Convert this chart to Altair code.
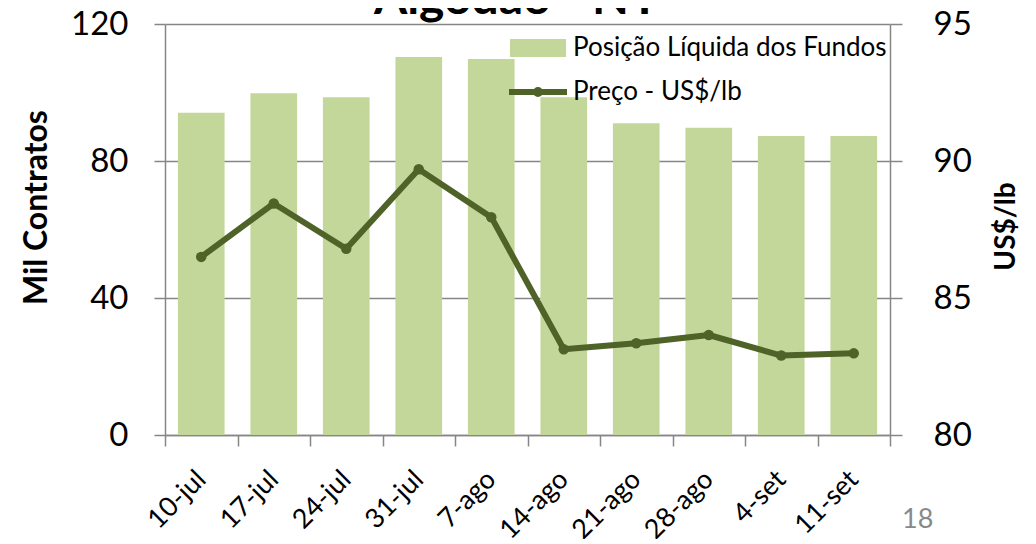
import altair as alt
import pandas as pd

semanas = ["10-jul", "17-jul", "24-jul", "31-jul", "7-ago", "14-ago", "21-ago", "28-ago", "4-set", "11-set"]
posicao_fundos = [94.1, 99.8, 98.6, 110.4, 109.8, 98.6, 91.0, 89.7, 87.3, 87.3]
preco = [86.5, 88.45, 86.8, 89.7, 87.95, 83.13, 83.35, 83.65, 82.9, 82.98]
nome_barras = "Posição Líquida dos Fundos"
nome_linha = "Preço -  US$/lb"
titulo = ["Algodão - NY"]
pagina = ["18"]

VERDE_CLARO = "#c4d79b"
VERDE_ESCURO = "#4f6228"
CINZA = "#868686"
FONTE = "Lato"

df_barras = pd.DataFrame({"semana": semanas, "valor": posicao_fundos, "serie": nome_barras})
df_linha = pd.DataFrame({"semana": semanas, "valor": preco, "serie": nome_linha})

x_enc = alt.X(
    "semana:N",
    sort=semanas,
    scale=alt.Scale(paddingInner=0, paddingOuter=0),
    axis=alt.Axis(
        title=None,
        labelAngle=315,
        labelAlign="right",
        labelBaseline="middle",
        labelFont=FONTE,
        labelFontSize=27,
        labelColor="black",
        labelPadding=29,
        tickBand="extent",
        tickColor=CINZA,
        tickWidth=1.5,
        tickSize=11,
        domainColor=CINZA,
        domainWidth=1.5,
        grid=False,
    ),
)

barras = alt.Chart(df_barras).mark_bar(width=alt.RelativeBandSize(0.644)).encode(
    x=x_enc,
    y=alt.Y(
        "valor:Q",
        scale=alt.Scale(domain=[0, 120], nice=False),
        axis=alt.Axis(
            values=[0, 40, 80, 120],
            grid=True,
            gridColor=CINZA,
            gridWidth=1.5,
            domainColor=CINZA,
            domainWidth=1.5,
            tickColor=CINZA,
            tickWidth=1.5,
            tickSize=11,
            labelFont=FONTE,
            labelFontSize=33,
            labelColor="black",
            labelPadding=26,
            title="Mil Contratos",
            titleFont=FONTE,
            titleFontSize=32,
            titleFontWeight="bold",
            titleColor="black",
            titleAngle=270,
            titleAlign="center",
            titleBaseline="middle",
            titleX=-129,
            titleY=183,
        ),
    ),
    fill=alt.Fill(
        "serie:N",
        scale=alt.Scale(domain=[nome_barras], range=[VERDE_CLARO]),
        legend=alt.Legend(
            orient="none",
            legendX=345,
            legendY=-4,
            title=None,
            symbolType="M-1,-0.32H1V0.32H-1Z",
            symbolSize=3136,
            symbolStrokeWidth=0,
            labelFont=FONTE,
            labelFontSize=26,
            labelColor="black",
            labelOffset=7,
            labelLimit=0,
            padding=0,
        ),
    ),
)

y_dir = alt.Scale(domain=[80, 95], nice=False)

linha = alt.Chart(df_linha).mark_line(strokeWidth=6, strokeJoin="round").encode(
    x=alt.X("semana:N", sort=semanas),
    y=alt.Y(
        "valor:Q",
        scale=y_dir,
        axis=alt.Axis(
            orient="right",
            values=[80, 85, 90, 95],
            grid=False,
            domainColor=CINZA,
            domainWidth=1.5,
            tickColor=CINZA,
            tickWidth=1.5,
            tickSize=12,
            labelFont=FONTE,
            labelFontSize=33,
            labelColor="black",
            labelPadding=31,
            title="US$/lb",
            titleFont=FONTE,
            titleFontSize=28,
            titleFontWeight="bold",
            titleColor="black",
            titleAngle=270,
            titleAlign="center",
            titleBaseline="middle",
            titleX=116,
            titleY=202,
        ),
    ),
    stroke=alt.Stroke(
        "serie:N",
        scale=alt.Scale(domain=[nome_linha], range=[VERDE_ESCURO]),
        legend=alt.Legend(
            orient="none",
            legendX=341,
            legendY=36,
            title=None,
            symbolType="M-1,0H1M0.07,0A0.07,0.07,0,1,1,-0.07,0A0.07,0.07,0,1,1,0.07,0",
            symbolSize=3364,
            symbolStrokeWidth=6,
            labelFont=FONTE,
            labelFontSize=26,
            labelColor="black",
            labelOffset=3,
            labelLimit=0,
            padding=0,
        ),
    ),
)

pontos = alt.Chart(df_linha).mark_circle(size=110, color=VERDE_ESCURO, opacity=1).encode(
    x=alt.X("semana:N", sort=semanas),
    y=alt.Y("valor:Q", scale=y_dir, axis=None),
)

texto_titulo = alt.Chart(pd.DataFrame({"t": titulo})).mark_text(
    font=FONTE, fontSize=48, fontWeight="bold", color="black", align="center", baseline="alphabetic"
).encode(text="t:N", x=alt.value(352), y=alt.value(-10))

texto_pagina = alt.Chart(pd.DataFrame({"t": pagina})).mark_text(
    font=FONTE, fontSize=27, color="#898989", align="left", baseline="alphabetic"
).encode(text="t:N", x=alt.value(737), y=alt.value(504))

chart = (
    alt.layer(barras, linha, pontos, texto_titulo, texto_pagina)
    .resolve_scale(y="independent")
    .properties(
        width=725,
        height=411,
        padding={"left": 157, "top": 16, "right": 138, "bottom": 104},
        autosize=alt.AutoSizeParams(type="none"),
    )
    .configure_view(stroke=None)
)

chart.save("out.html", embed_options={"renderer": "svg", "actions": False})
